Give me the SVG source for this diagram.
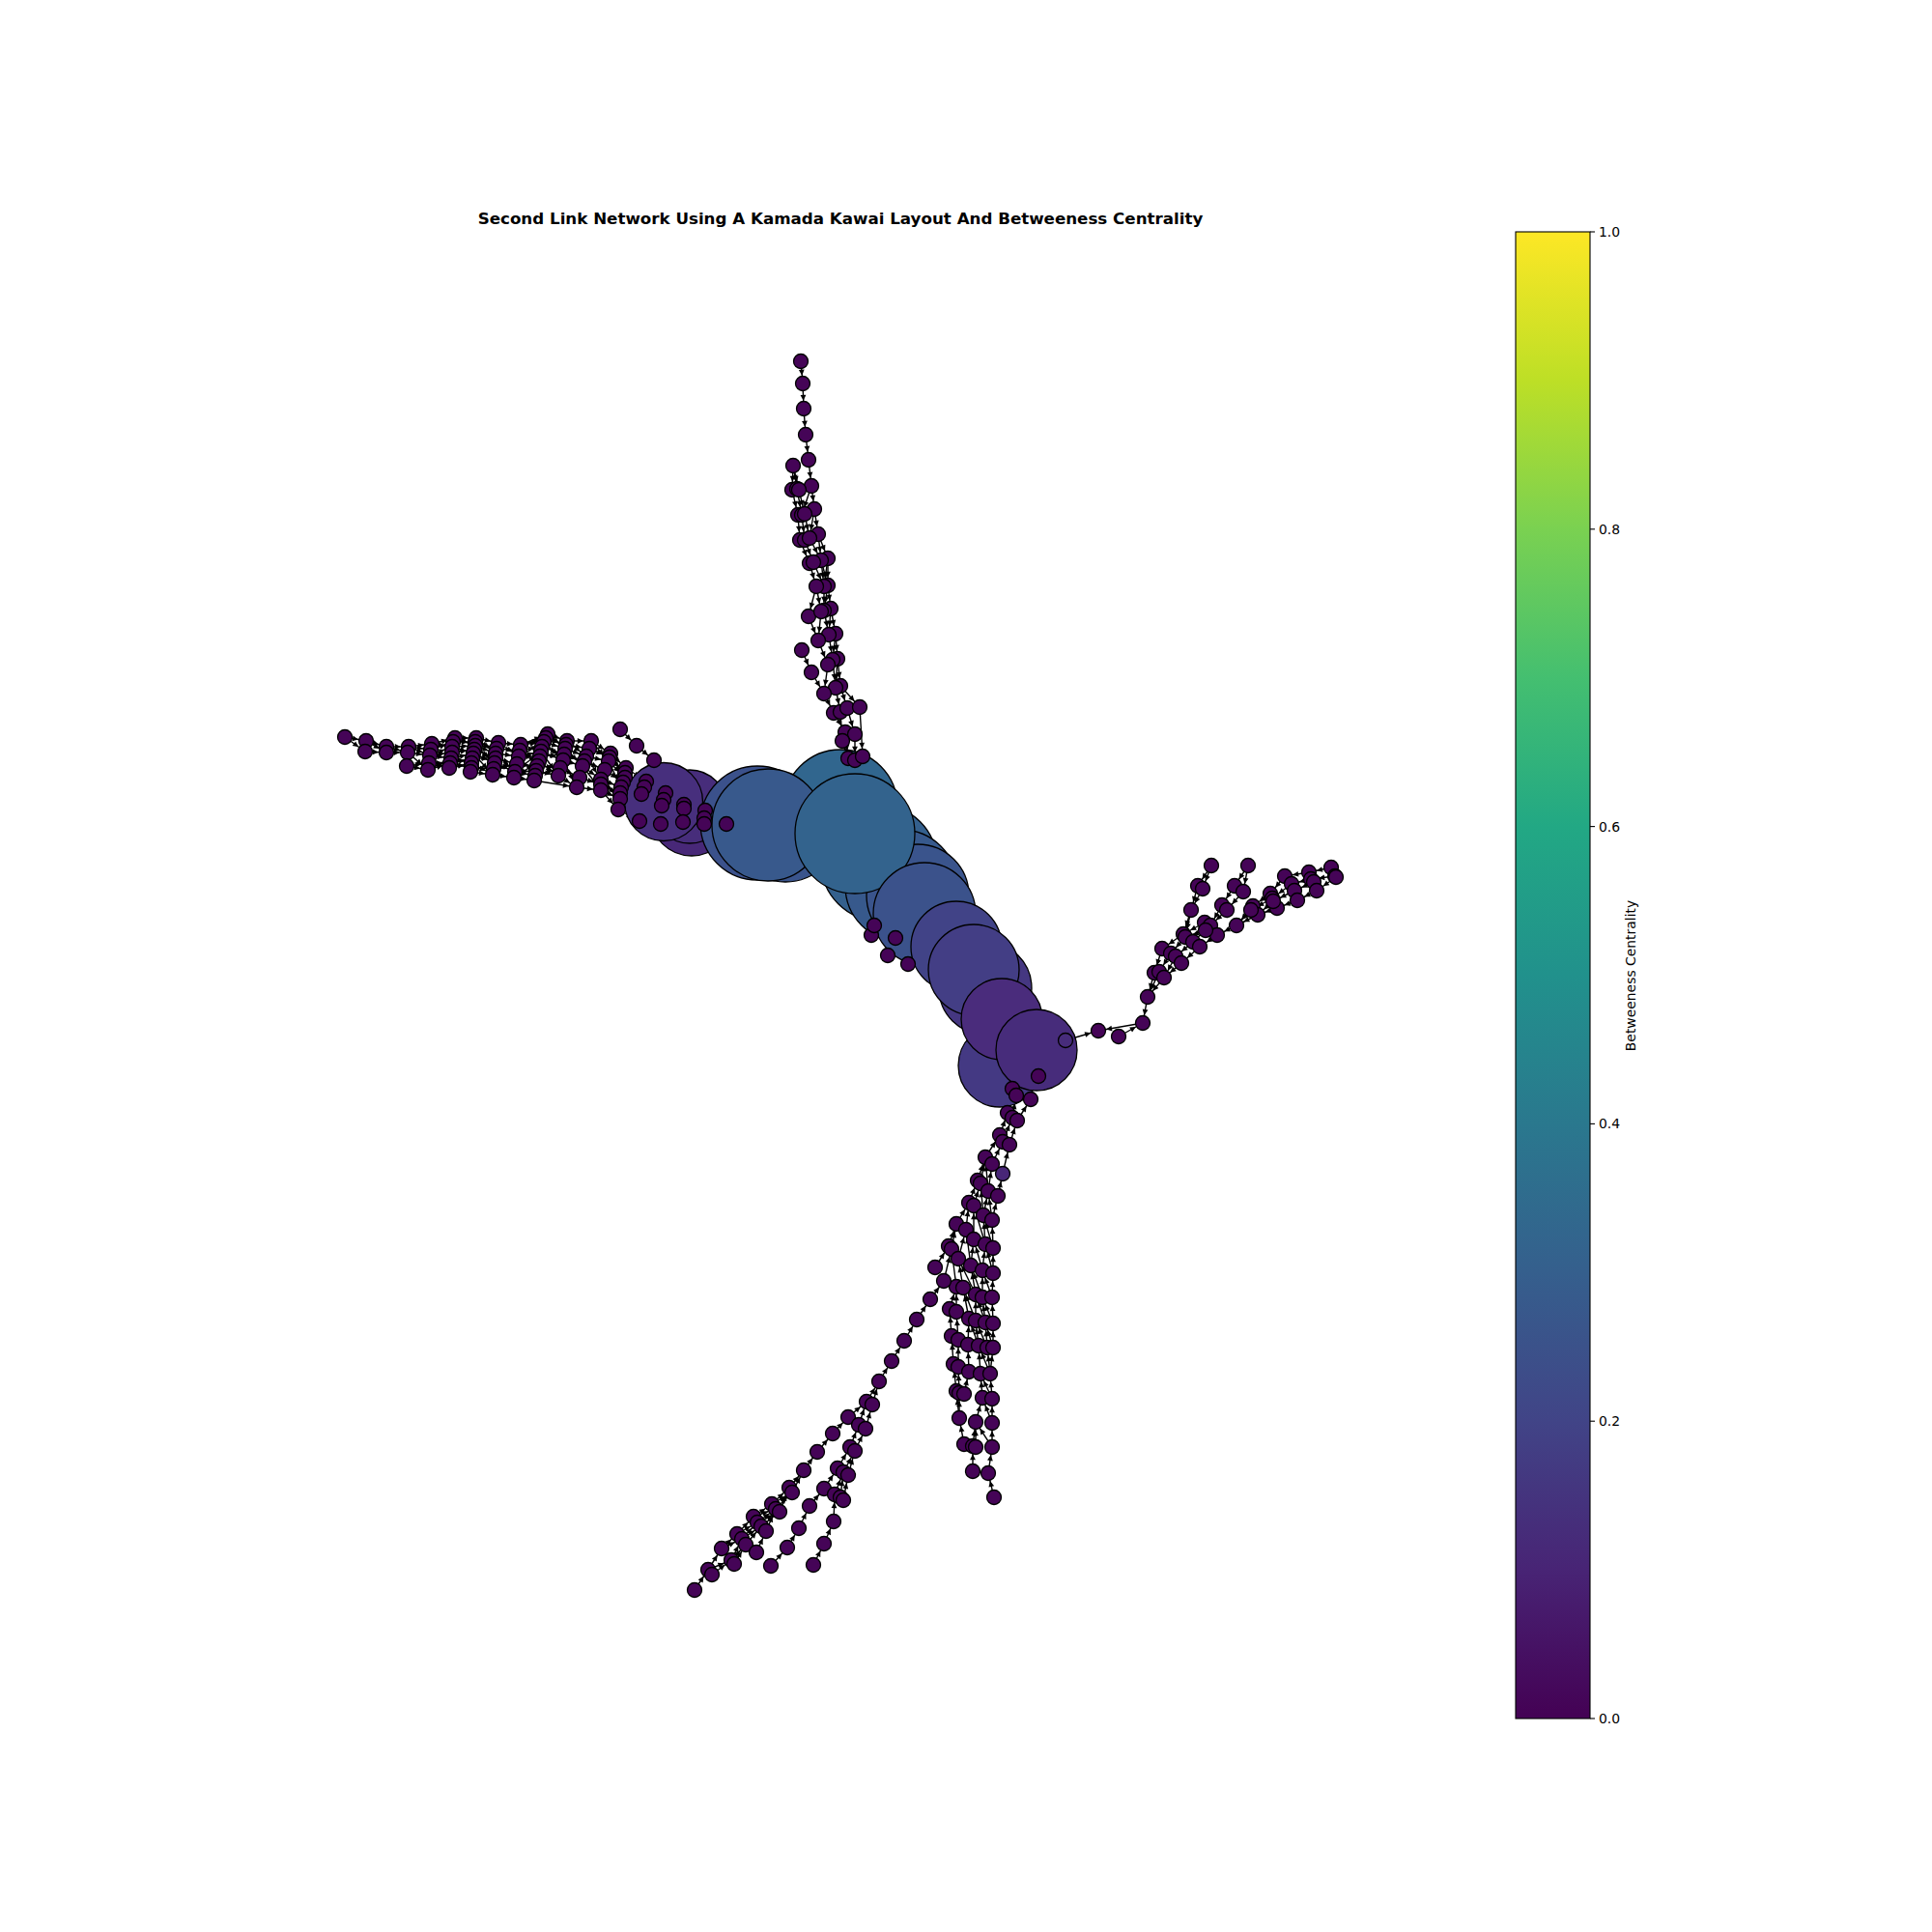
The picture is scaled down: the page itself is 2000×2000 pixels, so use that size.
<svg xmlns="http://www.w3.org/2000/svg" width="2000" height="2000" viewBox="0 0 2000 2000">
<style>
.e line{stroke:#000;stroke-width:1.4;marker-end:url(#ah)}
.n circle{fill:#450457;stroke:#000;stroke-width:1.3}
.h circle{stroke:#000;stroke-width:1.3}
.t{font-family:"DejaVu Sans",sans-serif;fill:#000}
</style>
<defs>
<marker id="ah" markerUnits="userSpaceOnUse" markerWidth="14" markerHeight="8" refX="14.2" refY="0" orient="auto" overflow="visible"><path d="M0,-2.9 L6,0 L0,2.9 Z" fill="#000"/></marker>
<linearGradient id="vir" x1="0" y1="1" x2="0" y2="0">
<stop offset="0" stop-color="#440154"/><stop offset="0.1" stop-color="#482475"/><stop offset="0.2" stop-color="#414487"/><stop offset="0.3" stop-color="#355f8d"/><stop offset="0.4" stop-color="#2a788e"/><stop offset="0.5" stop-color="#21918c"/><stop offset="0.6" stop-color="#22a884"/><stop offset="0.7" stop-color="#44bf70"/><stop offset="0.8" stop-color="#7ad151"/><stop offset="0.9" stop-color="#bddf26"/><stop offset="1" stop-color="#fde725"/>
</linearGradient>
</defs>
<rect width="2000" height="2000" fill="#fff"/>
<text class="t" x="870" y="232" font-size="16.7" font-weight="bold" text-anchor="middle">Second Link Network Using A Kamada Kawai Layout And Betweeness Centrality</text>
<g id="edges" class="e">
<line x1="829" y1="374" x2="831" y2="397"/><line x1="831" y1="397" x2="832" y2="423"/><line x1="832" y1="423" x2="834" y2="450"/><line x1="834" y1="450" x2="837" y2="476"/><line x1="837" y1="476" x2="840" y2="503"/><line x1="840" y1="503" x2="843" y2="527"/><line x1="843" y1="527" x2="847" y2="553"/><line x1="847" y1="553" x2="857" y2="578"/><line x1="857" y1="578" x2="857" y2="606"/><line x1="857" y1="606" x2="860" y2="630"/><line x1="860" y1="630" x2="865" y2="656"/><line x1="865" y1="656" x2="867" y2="682"/><line x1="867" y1="682" x2="870" y2="710"/><line x1="870" y1="710" x2="877" y2="733"/><line x1="877" y1="733" x2="885" y2="760"/><line x1="885" y1="760" x2="885" y2="787"/>
<line x1="821" y1="482" x2="820" y2="507"/><line x1="821" y1="482" x2="825" y2="506"/><line x1="821" y1="482" x2="827" y2="507"/><line x1="820" y1="507" x2="826" y2="533"/><line x1="826" y1="533" x2="828" y2="559"/><line x1="828" y1="559" x2="838" y2="583"/><line x1="838" y1="583" x2="845" y2="607"/><line x1="845" y1="607" x2="850" y2="633"/><line x1="850" y1="633" x2="847" y2="663"/><line x1="847" y1="663" x2="857" y2="688"/><line x1="857" y1="688" x2="853" y2="718"/><line x1="853" y1="718" x2="863" y2="738"/><line x1="863" y1="738" x2="875" y2="758"/><line x1="875" y1="758" x2="878" y2="785"/>
<line x1="825" y1="506" x2="830" y2="533"/><line x1="830" y1="533" x2="833" y2="559"/><line x1="833" y1="559" x2="842" y2="582"/><line x1="842" y1="582" x2="853" y2="607"/><line x1="853" y1="607" x2="853" y2="632"/><line x1="853" y1="632" x2="858" y2="657"/><line x1="858" y1="657" x2="862" y2="683"/><line x1="862" y1="683" x2="865" y2="712"/><line x1="865" y1="712" x2="870" y2="737"/><line x1="870" y1="737" x2="872" y2="767"/><line x1="872" y1="767" x2="878" y2="785"/>
<line x1="827" y1="507" x2="833" y2="532"/><line x1="833" y1="532" x2="838" y2="557"/><line x1="838" y1="557" x2="850" y2="580"/><line x1="850" y1="580" x2="857" y2="606"/><line x1="850" y1="580" x2="853" y2="607"/><line x1="837" y1="638" x2="847" y2="663"/><line x1="830" y1="673" x2="840" y2="696"/><line x1="840" y1="696" x2="853" y2="718"/><line x1="870" y1="710" x2="890" y2="732"/><line x1="890" y1="732" x2="893" y2="783"/><line x1="840" y1="503" x2="830" y2="533"/><line x1="843" y1="527" x2="838" y2="557"/><line x1="847" y1="553" x2="850" y2="580"/><line x1="857" y1="578" x2="853" y2="607"/><line x1="857" y1="606" x2="853" y2="632"/><line x1="860" y1="630" x2="858" y2="657"/><line x1="865" y1="656" x2="862" y2="683"/><line x1="867" y1="682" x2="865" y2="712"/><line x1="845" y1="607" x2="837" y2="638"/>
<line x1="357" y1="763" x2="379" y2="767"/><line x1="379" y1="767" x2="400" y2="773"/><line x1="400" y1="773" x2="423" y2="773"/><line x1="423" y1="773" x2="447" y2="770"/><line x1="447" y1="770" x2="471" y2="764"/><line x1="471" y1="764" x2="493" y2="764"/><line x1="493" y1="764" x2="516" y2="769"/><line x1="516" y1="769" x2="539" y2="771"/><line x1="539" y1="771" x2="567" y2="760"/><line x1="567" y1="760" x2="587" y2="767"/><line x1="587" y1="767" x2="612" y2="767"/><line x1="612" y1="767" x2="632" y2="780"/><line x1="632" y1="780" x2="648" y2="795"/><line x1="648" y1="795" x2="669" y2="809"/>
<line x1="378" y1="778" x2="400" y2="779"/><line x1="400" y1="779" x2="422" y2="779"/><line x1="422" y1="779" x2="445" y2="782"/><line x1="445" y1="782" x2="468" y2="773"/><line x1="468" y1="773" x2="492" y2="772"/><line x1="492" y1="772" x2="513" y2="780"/><line x1="513" y1="780" x2="537" y2="783"/><line x1="537" y1="783" x2="563" y2="768"/><line x1="563" y1="768" x2="585" y2="775"/><line x1="585" y1="775" x2="607" y2="783"/><line x1="607" y1="783" x2="630" y2="788"/><line x1="630" y1="788" x2="647" y2="805"/><line x1="647" y1="805" x2="667" y2="815"/>
<line x1="421" y1="793" x2="443" y2="797"/><line x1="443" y1="797" x2="467" y2="785"/><line x1="467" y1="785" x2="490" y2="780"/><line x1="490" y1="780" x2="512" y2="790"/><line x1="512" y1="790" x2="533" y2="799"/><line x1="533" y1="799" x2="560" y2="778"/><line x1="560" y1="778" x2="583" y2="787"/><line x1="583" y1="787" x2="603" y2="793"/><line x1="603" y1="793" x2="622" y2="807"/><line x1="622" y1="807" x2="643" y2="815"/><line x1="643" y1="815" x2="664" y2="822"/>
<line x1="465" y1="795" x2="488" y2="790"/><line x1="488" y1="790" x2="510" y2="802"/><line x1="510" y1="802" x2="532" y2="805"/><line x1="532" y1="805" x2="558" y2="788"/><line x1="558" y1="788" x2="578" y2="803"/><line x1="578" y1="803" x2="597" y2="815"/><line x1="597" y1="815" x2="622" y2="818"/><line x1="622" y1="818" x2="642" y2="827"/><line x1="642" y1="827" x2="689" y2="821"/><line x1="487" y1="799" x2="510" y2="802"/><line x1="555" y1="798" x2="578" y2="803"/><line x1="553" y1="808" x2="597" y2="815"/><line x1="640" y1="838" x2="662" y2="850"/>
<line x1="379" y1="767" x2="400" y2="779"/><line x1="400" y1="773" x2="422" y2="779"/><line x1="423" y1="773" x2="445" y2="782"/><line x1="422" y1="779" x2="443" y2="797"/><line x1="447" y1="770" x2="468" y2="773"/><line x1="445" y1="782" x2="467" y2="785"/><line x1="471" y1="764" x2="492" y2="772"/><line x1="468" y1="773" x2="490" y2="780"/><line x1="467" y1="785" x2="488" y2="790"/><line x1="493" y1="764" x2="513" y2="780"/><line x1="492" y1="772" x2="512" y2="790"/><line x1="490" y1="780" x2="510" y2="802"/><line x1="516" y1="769" x2="537" y2="783"/><line x1="513" y1="780" x2="533" y2="799"/><line x1="539" y1="771" x2="563" y2="768"/><line x1="537" y1="783" x2="560" y2="778"/><line x1="533" y1="799" x2="555" y2="798"/><line x1="532" y1="805" x2="553" y2="808"/><line x1="567" y1="760" x2="585" y2="775"/><line x1="563" y1="768" x2="583" y2="787"/><line x1="560" y1="778" x2="578" y2="803"/><line x1="587" y1="767" x2="607" y2="783"/><line x1="585" y1="775" x2="603" y2="793"/><line x1="583" y1="787" x2="597" y2="815"/><line x1="612" y1="767" x2="630" y2="788"/><line x1="607" y1="783" x2="622" y2="807"/><line x1="603" y1="793" x2="622" y2="818"/><line x1="632" y1="780" x2="647" y2="805"/><line x1="630" y1="788" x2="643" y2="815"/><line x1="622" y1="807" x2="642" y2="827"/><line x1="622" y1="818" x2="640" y2="838"/><line x1="642" y1="755" x2="659" y2="772"/><line x1="659" y1="772" x2="677" y2="787"/><line x1="357" y1="763" x2="378" y2="778"/>
<line x1="446" y1="776" x2="469" y2="768"/><line x1="444" y1="790" x2="466" y2="790"/><line x1="469" y1="768" x2="492" y2="768"/><line x1="468" y1="779" x2="491" y2="776"/><line x1="466" y1="790" x2="489" y2="785"/><line x1="466" y1="790" x2="488" y2="795"/><line x1="492" y1="768" x2="514" y2="775"/><line x1="491" y1="776" x2="513" y2="785"/><line x1="489" y1="785" x2="513" y2="785"/><line x1="488" y1="795" x2="511" y2="796"/><line x1="514" y1="775" x2="538" y2="777"/><line x1="513" y1="785" x2="535" y2="791"/><line x1="511" y1="796" x2="535" y2="791"/><line x1="538" y1="777" x2="561" y2="773"/><line x1="535" y1="791" x2="556" y2="793"/><line x1="565" y1="764" x2="586" y2="771"/><line x1="561" y1="773" x2="584" y2="781"/><line x1="559" y1="783" x2="584" y2="781"/><line x1="556" y1="793" x2="580" y2="795"/><line x1="554" y1="803" x2="580" y2="795"/><line x1="586" y1="771" x2="610" y2="775"/><line x1="584" y1="781" x2="605" y2="788"/><line x1="580" y1="795" x2="600" y2="805"/><line x1="610" y1="775" x2="631" y2="784"/><line x1="605" y1="788" x2="626" y2="797"/><line x1="600" y1="805" x2="622" y2="812"/><line x1="631" y1="784" x2="647" y2="800"/><line x1="626" y1="797" x2="645" y2="810"/><line x1="622" y1="812" x2="642" y2="821"/><line x1="445" y1="782" x2="468" y2="779"/><line x1="443" y1="797" x2="466" y2="790"/><line x1="539" y1="771" x2="565" y2="764"/><line x1="537" y1="783" x2="559" y2="783"/><line x1="533" y1="799" x2="554" y2="803"/><line x1="423" y1="773" x2="446" y2="776"/><line x1="421" y1="793" x2="444" y2="790"/>
<line x1="1378" y1="898" x2="1355" y2="903"/><line x1="1382" y1="907" x2="1357" y2="910"/><line x1="1383" y1="908" x2="1363" y2="922"/><line x1="1355" y1="903" x2="1330" y2="907"/><line x1="1357" y1="910" x2="1337" y2="915"/><line x1="1360" y1="913" x2="1340" y2="922"/><line x1="1363" y1="922" x2="1343" y2="932"/><line x1="1330" y1="907" x2="1315" y2="925"/><line x1="1337" y1="915" x2="1317" y2="930"/><line x1="1340" y1="922" x2="1318" y2="933"/><line x1="1343" y1="932" x2="1322" y2="940"/><line x1="1315" y1="925" x2="1297" y2="938"/><line x1="1317" y1="930" x2="1295" y2="942"/><line x1="1318" y1="933" x2="1302" y2="947"/><line x1="1322" y1="940" x2="1302" y2="947"/><line x1="1297" y1="938" x2="1280" y2="958"/><line x1="1295" y1="942" x2="1280" y2="958"/><line x1="1302" y1="947" x2="1280" y2="958"/><line x1="1280" y1="958" x2="1260" y2="968"/>
<line x1="1292" y1="896" x2="1278" y2="917"/><line x1="1292" y1="896" x2="1287" y2="923"/><line x1="1278" y1="917" x2="1265" y2="937"/><line x1="1287" y1="923" x2="1270" y2="942"/><line x1="1265" y1="937" x2="1253" y2="958"/><line x1="1270" y1="942" x2="1253" y2="958"/><line x1="1254" y1="896" x2="1240" y2="917"/><line x1="1254" y1="896" x2="1245" y2="920"/><line x1="1240" y1="917" x2="1233" y2="942"/><line x1="1245" y1="920" x2="1233" y2="942"/><line x1="1233" y1="942" x2="1225" y2="967"/><line x1="1233" y1="942" x2="1227" y2="970"/><line x1="1247" y1="955" x2="1225" y2="967"/><line x1="1253" y1="958" x2="1235" y2="975"/><line x1="1260" y1="968" x2="1242" y2="980"/><line x1="1248" y1="963" x2="1227" y2="970"/>
<line x1="1225" y1="967" x2="1203" y2="982"/><line x1="1227" y1="970" x2="1212" y2="987"/><line x1="1235" y1="975" x2="1217" y2="990"/><line x1="1242" y1="980" x2="1223" y2="997"/><line x1="1203" y1="982" x2="1195" y2="1007"/><line x1="1212" y1="987" x2="1200" y2="1006"/><line x1="1217" y1="990" x2="1205" y2="1012"/><line x1="1223" y1="997" x2="1205" y2="1012"/><line x1="1195" y1="1007" x2="1188" y2="1032"/><line x1="1200" y1="1006" x2="1188" y2="1032"/><line x1="1205" y1="1012" x2="1188" y2="1032"/><line x1="1188" y1="1032" x2="1183" y2="1059"/><line x1="1158" y1="1073" x2="1183" y2="1059"/><line x1="1183" y1="1059" x2="1137" y2="1067"/><line x1="1103" y1="1077" x2="1137" y2="1067"/>
<line x1="1029" y1="1550" x2="1023" y2="1525"/><line x1="1023" y1="1525" x2="1027" y2="1498"/><line x1="1007" y1="1523" x2="1007" y2="1497"/><line x1="1027" y1="1498" x2="1027" y2="1473"/><line x1="1010" y1="1498" x2="1010" y2="1472"/><line x1="1007" y1="1497" x2="1010" y2="1472"/><line x1="998" y1="1495" x2="993" y2="1468"/><line x1="1027" y1="1473" x2="1027" y2="1448"/><line x1="1010" y1="1472" x2="1017" y2="1447"/><line x1="993" y1="1468" x2="993" y2="1442"/><line x1="993" y1="1468" x2="990" y2="1440"/><line x1="1027" y1="1448" x2="1025" y2="1422"/><line x1="1017" y1="1447" x2="1015" y2="1422"/><line x1="998" y1="1443" x2="1003" y2="1420"/><line x1="993" y1="1442" x2="992" y2="1415"/><line x1="990" y1="1440" x2="987" y2="1412"/><line x1="1025" y1="1422" x2="1028" y2="1395"/><line x1="1025" y1="1422" x2="1022" y2="1395"/><line x1="1015" y1="1422" x2="1013" y2="1393"/><line x1="1003" y1="1420" x2="1002" y2="1392"/><line x1="992" y1="1415" x2="992" y2="1387"/><line x1="987" y1="1412" x2="985" y2="1383"/>
<line x1="1028" y1="1395" x2="1028" y2="1370"/><line x1="1022" y1="1395" x2="1020" y2="1369"/><line x1="1013" y1="1393" x2="1010" y2="1367"/><line x1="1002" y1="1392" x2="1003" y2="1365"/><line x1="992" y1="1387" x2="990" y2="1358"/><line x1="985" y1="1383" x2="983" y2="1355"/><line x1="1028" y1="1370" x2="1027" y2="1343"/><line x1="1020" y1="1369" x2="1017" y2="1343"/><line x1="1010" y1="1367" x2="1010" y2="1340"/><line x1="1003" y1="1365" x2="997" y2="1333"/><line x1="990" y1="1358" x2="990" y2="1332"/><line x1="983" y1="1355" x2="990" y2="1332"/><line x1="1027" y1="1343" x2="1028" y2="1318"/><line x1="1017" y1="1343" x2="1017" y2="1315"/><line x1="1010" y1="1340" x2="1005" y2="1310"/><line x1="997" y1="1333" x2="992" y2="1303"/><line x1="990" y1="1332" x2="985" y2="1293"/>
<line x1="1028" y1="1318" x2="1028" y2="1292"/><line x1="1017" y1="1315" x2="1020" y2="1288"/><line x1="1005" y1="1310" x2="1008" y2="1283"/><line x1="992" y1="1303" x2="1000" y2="1273"/><line x1="985" y1="1293" x2="990" y2="1267"/><line x1="982" y1="1290" x2="990" y2="1267"/><line x1="1028" y1="1292" x2="1027" y2="1263"/><line x1="1020" y1="1288" x2="1018" y2="1258"/><line x1="1008" y1="1283" x2="1008" y2="1248"/><line x1="1000" y1="1273" x2="1003" y2="1245"/><line x1="990" y1="1267" x2="1003" y2="1245"/><line x1="1027" y1="1263" x2="1033" y2="1238"/><line x1="1018" y1="1258" x2="1023" y2="1233"/><line x1="1008" y1="1248" x2="1015" y2="1225"/><line x1="1003" y1="1245" x2="1012" y2="1222"/><line x1="1033" y1="1238" x2="1038" y2="1215"/><line x1="1023" y1="1233" x2="1027" y2="1205"/><line x1="1015" y1="1225" x2="1020" y2="1198"/><line x1="1012" y1="1222" x2="1020" y2="1198"/><line x1="1038" y1="1215" x2="1045" y2="1185"/><line x1="1027" y1="1205" x2="1038" y2="1182"/><line x1="1020" y1="1198" x2="1035" y2="1175"/><line x1="1045" y1="1185" x2="1053" y2="1160"/><line x1="1038" y1="1182" x2="1048" y2="1157"/><line x1="1035" y1="1175" x2="1043" y2="1152"/><line x1="1053" y1="1160" x2="1067" y2="1138"/><line x1="1048" y1="1157" x2="1052" y2="1134"/><line x1="1043" y1="1152" x2="1048" y2="1127"/>
<line x1="1028" y1="1370" x2="1017" y2="1343"/><line x1="1027" y1="1343" x2="1017" y2="1315"/><line x1="1028" y1="1318" x2="1020" y2="1288"/><line x1="1028" y1="1395" x2="1020" y2="1369"/><line x1="1022" y1="1395" x2="1010" y2="1367"/><line x1="1020" y1="1369" x2="1010" y2="1340"/><line x1="1017" y1="1343" x2="1005" y2="1310"/><line x1="1017" y1="1315" x2="1008" y2="1283"/><line x1="1025" y1="1422" x2="1013" y2="1393"/><line x1="1027" y1="1448" x2="1015" y2="1422"/><line x1="1027" y1="1473" x2="1017" y2="1447"/><line x1="1013" y1="1393" x2="1003" y2="1365"/><line x1="1010" y1="1367" x2="997" y2="1333"/><line x1="1010" y1="1340" x2="992" y2="1303"/><line x1="1005" y1="1310" x2="1000" y2="1273"/><line x1="1020" y1="1288" x2="1008" y2="1248"/><line x1="1018" y1="1258" x2="1015" y2="1225"/><line x1="1023" y1="1233" x2="1020" y2="1198"/><line x1="1027" y1="1498" x2="1010" y2="1472"/><line x1="1028" y1="1292" x2="1018" y2="1258"/><line x1="1027" y1="1263" x2="1023" y2="1233"/>
<line x1="719" y1="1646" x2="733" y2="1625"/><line x1="733" y1="1625" x2="747" y2="1603"/><line x1="747" y1="1603" x2="763" y2="1588"/><line x1="763" y1="1588" x2="780" y2="1570"/><line x1="780" y1="1570" x2="799" y2="1557"/><line x1="799" y1="1557" x2="817" y2="1540"/><line x1="817" y1="1540" x2="832" y2="1522"/><line x1="832" y1="1522" x2="846" y2="1503"/><line x1="846" y1="1503" x2="862" y2="1484"/><line x1="862" y1="1484" x2="878" y2="1467"/><line x1="878" y1="1467" x2="897" y2="1451"/><line x1="897" y1="1451" x2="910" y2="1430"/><line x1="910" y1="1430" x2="923" y2="1409"/><line x1="923" y1="1409" x2="936" y2="1388"/><line x1="936" y1="1388" x2="949" y2="1366"/><line x1="949" y1="1366" x2="963" y2="1345"/><line x1="963" y1="1345" x2="977" y2="1326"/><line x1="977" y1="1326" x2="985" y2="1293"/><line x1="968" y1="1312" x2="982" y2="1290"/>
<line x1="798" y1="1621" x2="815" y2="1602"/><line x1="815" y1="1602" x2="827" y2="1582"/><line x1="827" y1="1582" x2="838" y2="1559"/><line x1="838" y1="1559" x2="853" y2="1541"/><line x1="853" y1="1541" x2="867" y2="1520"/><line x1="867" y1="1520" x2="880" y2="1498"/><line x1="880" y1="1498" x2="889" y2="1475"/><line x1="889" y1="1475" x2="897" y2="1451"/><line x1="842" y1="1620" x2="853" y2="1598"/><line x1="853" y1="1598" x2="863" y2="1575"/><line x1="863" y1="1575" x2="864" y2="1547"/><line x1="864" y1="1547" x2="873" y2="1524"/><line x1="873" y1="1524" x2="885" y2="1502"/><line x1="885" y1="1502" x2="896" y2="1479"/><line x1="896" y1="1479" x2="903" y2="1454"/><line x1="903" y1="1454" x2="910" y2="1430"/><line x1="873" y1="1553" x2="878" y2="1527"/><line x1="870" y1="1550" x2="873" y2="1524"/><line x1="878" y1="1527" x2="885" y2="1502"/>
<line x1="737" y1="1630" x2="757" y2="1615"/><line x1="757" y1="1615" x2="768" y2="1593"/><line x1="768" y1="1593" x2="784" y2="1576"/><line x1="784" y1="1576" x2="803" y2="1562"/><line x1="803" y1="1562" x2="820" y2="1545"/><line x1="820" y1="1545" x2="832" y2="1522"/><line x1="760" y1="1619" x2="772" y2="1599"/><line x1="772" y1="1599" x2="788" y2="1580"/><line x1="788" y1="1580" x2="807" y2="1565"/><line x1="807" y1="1565" x2="817" y2="1540"/><line x1="783" y1="1607" x2="793" y2="1585"/><line x1="793" y1="1585" x2="803" y2="1562"/><line x1="733" y1="1625" x2="757" y2="1615"/><line x1="747" y1="1603" x2="768" y2="1593"/><line x1="763" y1="1588" x2="784" y2="1576"/><line x1="780" y1="1570" x2="803" y2="1562"/><line x1="799" y1="1557" x2="820" y2="1545"/><line x1="757" y1="1615" x2="772" y2="1599"/><line x1="768" y1="1593" x2="788" y2="1580"/><line x1="784" y1="1576" x2="807" y2="1565"/>
</g>
<g id="h1" class="h"><circle cx="716" cy="843" r="43" fill="#482878"/></g>
<g id="h0" class="h"><circle cx="714" cy="835" r="38" fill="#472d7b"/></g>
<g id="h2" class="h"><circle cx="784" cy="852" r="59" fill="#3b518b"/></g>
<g id="h3" class="h"><circle cx="813" cy="857" r="56" fill="#3a548c"/></g>
<g id="h4" class="h"><circle cx="870" cy="835" r="59" fill="#31668e"/></g>
<g id="h5" class="h"><circle cx="910" cy="893" r="60" fill="#34608d"/></g>
<g id="h6" class="h"><circle cx="933" cy="917" r="58" fill="#37598c"/></g>
<g id="h7" class="h"><circle cx="950" cy="927" r="53" fill="#3a548c"/></g>
<g id="hA" class="h"><circle cx="687" cy="830" r="40.5" fill="#472f7d"/></g>
<g id="hB" class="h"><circle cx="795" cy="854" r="58" fill="#38598c"/></g>
<g id="hD" class="h"><circle cx="885" cy="863" r="62" fill="#33638d"/></g>
<g id="hX1" class="h"><circle cx="1020" cy="1023" r="48" fill="#453781"/></g>
<g id="hE" class="h"><circle cx="957" cy="946" r="53" fill="#3b528b"/></g>
<g id="hF" class="h"><circle cx="990" cy="980" r="47" fill="#414387"/></g>
<g id="hG" class="h"><circle cx="1008" cy="1004" r="47" fill="#433e85"/></g>
<g id="hH" class="h"><circle cx="1035" cy="1103" r="43" fill="#443983"/></g>
<g id="hX2" class="h"><circle cx="1037" cy="1055" r="42" fill="#4a2c7c"/></g>
<g id="hI" class="h"><circle cx="1073" cy="1087" r="42" fill="#472c7b"/></g>
<g id="t1" class="n"><circle cx="829" cy="374" r="7.5"/></g>
<g id="t2" class="n"><circle cx="831" cy="397" r="7.5"/></g>
<g id="t3" class="n"><circle cx="832" cy="423" r="7.5"/></g>
<g id="t4" class="n"><circle cx="834" cy="450" r="7.5"/></g>
<g id="t5" class="n"><circle cx="837" cy="476" r="7.5"/></g>
<g id="t6" class="n"><circle cx="821" cy="482" r="7.5"/></g>
<g id="t7" class="n"><circle cx="840" cy="503" r="7.5"/></g>
<g id="t8" class="n"><circle cx="820" cy="507" r="7.5"/></g>
<g id="t9" class="n"><circle cx="825" cy="506" r="7.5"/></g>
<g id="t10" class="n"><circle cx="827" cy="507" r="7.5"/></g>
<g id="t11" class="n"><circle cx="843" cy="527" r="7.5"/></g>
<g id="t12" class="n"><circle cx="826" cy="533" r="7.5"/></g>
<g id="t13" class="n"><circle cx="830" cy="533" r="7.5"/></g>
<g id="t14" class="n"><circle cx="833" cy="532" r="7.5"/></g>
<g id="t15" class="n"><circle cx="847" cy="553" r="7.5"/></g>
<g id="t16" class="n"><circle cx="828" cy="559" r="7.5"/></g>
<g id="t17" class="n"><circle cx="833" cy="559" r="7.5"/></g>
<g id="t18" class="n"><circle cx="838" cy="557" r="7.5"/></g>
<g id="t19" class="n"><circle cx="857" cy="578" r="7.5"/></g>
<g id="t20" class="n"><circle cx="850" cy="580" r="7.5"/></g>
<g id="t21" class="n"><circle cx="838" cy="583" r="7.5"/></g>
<g id="t22" class="n"><circle cx="842" cy="582" r="7.5"/></g>
<g id="t23" class="n"><circle cx="857" cy="606" r="7.5"/></g>
<g id="t24" class="n"><circle cx="853" cy="607" r="7.5"/></g>
<g id="t25" class="n"><circle cx="845" cy="607" r="7.5"/></g>
<g id="t26" class="n"><circle cx="837" cy="638" r="7.5"/></g>
<g id="t27" class="n"><circle cx="860" cy="630" r="7.5"/></g>
<g id="t28" class="n"><circle cx="853" cy="632" r="7.5"/></g>
<g id="t29" class="n"><circle cx="850" cy="633" r="7.5"/></g>
<g id="t30" class="n"><circle cx="865" cy="656" r="7.5"/></g>
<g id="t31" class="n"><circle cx="858" cy="657" r="7.5"/></g>
<g id="t32" class="n"><circle cx="847" cy="663" r="7.5"/></g>
<g id="t33" class="n"><circle cx="830" cy="673" r="7.5"/></g>
<g id="t34" class="n"><circle cx="867" cy="682" r="7.5"/></g>
<g id="t35" class="n"><circle cx="862" cy="683" r="7.5"/></g>
<g id="t36" class="n"><circle cx="857" cy="688" r="7.5"/></g>
<g id="t37" class="n"><circle cx="840" cy="696" r="7.5"/></g>
<g id="t38" class="n"><circle cx="870" cy="710" r="7.5"/></g>
<g id="t39" class="n"><circle cx="865" cy="712" r="7.5"/></g>
<g id="t40" class="n"><circle cx="853" cy="718" r="7.5"/></g>
<g id="t41" class="n"><circle cx="863" cy="738" r="7.5"/></g>
<g id="t42" class="n"><circle cx="870" cy="737" r="7.5"/></g>
<g id="t43" class="n"><circle cx="877" cy="733" r="7.5"/></g>
<g id="t44" class="n"><circle cx="890" cy="732" r="7.5"/></g>
<g id="t45" class="n"><circle cx="875" cy="758" r="7.5"/></g>
<g id="t46" class="n"><circle cx="885" cy="760" r="7.5"/></g>
<g id="t47" class="n"><circle cx="872" cy="767" r="7.5"/></g>
<g id="t48" class="n"><circle cx="878" cy="785" r="7.5"/></g>
<g id="t49" class="n"><circle cx="885" cy="787" r="7.5"/></g>
<g id="t50" class="n"><circle cx="893" cy="783" r="7.5"/></g>
<g id="l1" class="n"><circle cx="357" cy="763" r="7.5"/></g>
<g id="l2" class="n"><circle cx="379" cy="767" r="7.5"/></g>
<g id="l3" class="n"><circle cx="378" cy="778" r="7.5"/></g>
<g id="l4" class="n"><circle cx="400" cy="773" r="7.5"/></g>
<g id="l5" class="n"><circle cx="400" cy="779" r="7.5"/></g>
<g id="l6" class="n"><circle cx="423" cy="773" r="7.5"/></g>
<g id="l7" class="n"><circle cx="422" cy="779" r="7.5"/></g>
<g id="l8" class="n"><circle cx="421" cy="793" r="7.5"/></g>
<g id="l9" class="n"><circle cx="447" cy="770" r="7.5"/></g>
<g id="l70" class="n"><circle cx="446" cy="776" r="7.5"/></g>
<g id="l10" class="n"><circle cx="445" cy="782" r="7.5"/></g>
<g id="l71" class="n"><circle cx="444" cy="790" r="7.5"/></g>
<g id="l11" class="n"><circle cx="443" cy="797" r="7.5"/></g>
<g id="l12" class="n"><circle cx="471" cy="764" r="7.5"/></g>
<g id="l72" class="n"><circle cx="469" cy="768" r="7.5"/></g>
<g id="l13" class="n"><circle cx="468" cy="773" r="7.5"/></g>
<g id="l73" class="n"><circle cx="468" cy="779" r="7.5"/></g>
<g id="l14" class="n"><circle cx="467" cy="785" r="7.5"/></g>
<g id="l74" class="n"><circle cx="466" cy="790" r="7.5"/></g>
<g id="l15" class="n"><circle cx="465" cy="795" r="7.5"/></g>
<g id="l16" class="n"><circle cx="493" cy="764" r="7.5"/></g>
<g id="l75" class="n"><circle cx="492" cy="768" r="7.5"/></g>
<g id="l17" class="n"><circle cx="492" cy="772" r="7.5"/></g>
<g id="l76" class="n"><circle cx="491" cy="776" r="7.5"/></g>
<g id="l18" class="n"><circle cx="490" cy="780" r="7.5"/></g>
<g id="l77" class="n"><circle cx="489" cy="785" r="7.5"/></g>
<g id="l19" class="n"><circle cx="488" cy="790" r="7.5"/></g>
<g id="l78" class="n"><circle cx="488" cy="795" r="7.5"/></g>
<g id="l20" class="n"><circle cx="487" cy="799" r="7.5"/></g>
<g id="l21" class="n"><circle cx="516" cy="769" r="7.5"/></g>
<g id="l79" class="n"><circle cx="514" cy="775" r="7.5"/></g>
<g id="l22" class="n"><circle cx="513" cy="780" r="7.5"/></g>
<g id="l80" class="n"><circle cx="513" cy="785" r="7.5"/></g>
<g id="l23" class="n"><circle cx="512" cy="790" r="7.5"/></g>
<g id="l81" class="n"><circle cx="511" cy="796" r="7.5"/></g>
<g id="l24" class="n"><circle cx="510" cy="802" r="7.5"/></g>
<g id="l25" class="n"><circle cx="539" cy="771" r="7.5"/></g>
<g id="l82" class="n"><circle cx="538" cy="777" r="7.5"/></g>
<g id="l26" class="n"><circle cx="537" cy="783" r="7.5"/></g>
<g id="l83" class="n"><circle cx="535" cy="791" r="7.5"/></g>
<g id="l27" class="n"><circle cx="533" cy="799" r="7.5"/></g>
<g id="l28" class="n"><circle cx="532" cy="805" r="7.5"/></g>
<g id="l29" class="n"><circle cx="567" cy="760" r="7.5"/></g>
<g id="l84" class="n"><circle cx="565" cy="764" r="7.5"/></g>
<g id="l30" class="n"><circle cx="563" cy="768" r="7.5"/></g>
<g id="l85" class="n"><circle cx="561" cy="773" r="7.5"/></g>
<g id="l31" class="n"><circle cx="560" cy="778" r="7.5"/></g>
<g id="l86" class="n"><circle cx="559" cy="783" r="7.5"/></g>
<g id="l32" class="n"><circle cx="558" cy="788" r="7.5"/></g>
<g id="l87" class="n"><circle cx="556" cy="793" r="7.5"/></g>
<g id="l33" class="n"><circle cx="555" cy="798" r="7.5"/></g>
<g id="l88" class="n"><circle cx="554" cy="803" r="7.5"/></g>
<g id="l34" class="n"><circle cx="553" cy="808" r="7.5"/></g>
<g id="l35" class="n"><circle cx="587" cy="767" r="7.5"/></g>
<g id="l89" class="n"><circle cx="586" cy="771" r="7.5"/></g>
<g id="l36" class="n"><circle cx="585" cy="775" r="7.5"/></g>
<g id="l90" class="n"><circle cx="584" cy="781" r="7.5"/></g>
<g id="l37" class="n"><circle cx="583" cy="787" r="7.5"/></g>
<g id="l91" class="n"><circle cx="580" cy="795" r="7.5"/></g>
<g id="l38" class="n"><circle cx="578" cy="803" r="7.5"/></g>
<g id="l39" class="n"><circle cx="612" cy="767" r="7.5"/></g>
<g id="l92" class="n"><circle cx="610" cy="775" r="7.5"/></g>
<g id="l40" class="n"><circle cx="607" cy="783" r="7.5"/></g>
<g id="l93" class="n"><circle cx="605" cy="788" r="7.5"/></g>
<g id="l41" class="n"><circle cx="603" cy="793" r="7.5"/></g>
<g id="l94" class="n"><circle cx="600" cy="805" r="7.5"/></g>
<g id="l42" class="n"><circle cx="597" cy="815" r="7.5"/></g>
<g id="l43" class="n"><circle cx="632" cy="780" r="7.5"/></g>
<g id="l95" class="n"><circle cx="631" cy="784" r="7.5"/></g>
<g id="l44" class="n"><circle cx="630" cy="788" r="7.5"/></g>
<g id="l96" class="n"><circle cx="626" cy="797" r="7.5"/></g>
<g id="l45" class="n"><circle cx="622" cy="807" r="7.5"/></g>
<g id="l97" class="n"><circle cx="622" cy="812" r="7.5"/></g>
<g id="l46" class="n"><circle cx="622" cy="818" r="7.5"/></g>
<g id="l47" class="n"><circle cx="648" cy="795" r="7.5"/></g>
<g id="l98" class="n"><circle cx="647" cy="800" r="7.5"/></g>
<g id="l48" class="n"><circle cx="647" cy="805" r="7.5"/></g>
<g id="l99" class="n"><circle cx="645" cy="810" r="7.5"/></g>
<g id="l49" class="n"><circle cx="643" cy="815" r="7.5"/></g>
<g id="l100" class="n"><circle cx="642" cy="821" r="7.5"/></g>
<g id="l50" class="n"><circle cx="642" cy="827" r="7.5"/></g>
<g id="l51" class="n"><circle cx="640" cy="838" r="7.5"/></g>
<g id="l52" class="n"><circle cx="642" cy="755" r="7.5"/></g>
<g id="l53" class="n"><circle cx="659" cy="772" r="7.5"/></g>
<g id="l54" class="n"><circle cx="677" cy="787" r="7.5"/></g>
<g id="l55" class="n"><circle cx="662" cy="850" r="7.5"/></g>
<g id="l56" class="n"><circle cx="669" cy="809" r="7.5"/></g>
<g id="l57" class="n"><circle cx="667" cy="815" r="7.5"/></g>
<g id="l58" class="n"><circle cx="664" cy="822" r="7.5"/></g>
<g id="l59" class="n"><circle cx="689" cy="821" r="7.5"/></g>
<g id="l60" class="n"><circle cx="687" cy="828" r="7.5"/></g>
<g id="l61" class="n"><circle cx="685" cy="834" r="7.5"/></g>
<g id="l62" class="n"><circle cx="708" cy="833" r="7.5"/></g>
<g id="l63" class="n"><circle cx="708" cy="837" r="7.5"/></g>
<g id="l64" class="n"><circle cx="684" cy="853" r="7.5"/></g>
<g id="l65" class="n"><circle cx="707" cy="851" r="7.5"/></g>
<g id="l66" class="n"><circle cx="730" cy="839" r="7.5"/></g>
<g id="l67" class="n"><circle cx="729" cy="847" r="7.5"/></g>
<g id="l68" class="n"><circle cx="729" cy="853" r="7.5"/></g>
<g id="l69" class="n"><circle cx="752" cy="853" r="7.5"/></g>
<g id="r1" class="n"><circle cx="1103" cy="1077" r="7.5" style="fill:#472c7b"/></g>
<g id="r2" class="n"><circle cx="1137" cy="1067" r="7.5"/></g>
<g id="r3" class="n"><circle cx="1158" cy="1073" r="7.5"/></g>
<g id="r4" class="n"><circle cx="1183" cy="1059" r="7.5"/></g>
<g id="r5" class="n"><circle cx="1188" cy="1032" r="7.5"/></g>
<g id="r6" class="n"><circle cx="1195" cy="1007" r="7.5"/></g>
<g id="r7" class="n"><circle cx="1200" cy="1006" r="7.5"/></g>
<g id="r8" class="n"><circle cx="1205" cy="1012" r="7.5"/></g>
<g id="r9" class="n"><circle cx="1203" cy="982" r="7.5"/></g>
<g id="r10" class="n"><circle cx="1212" cy="987" r="7.5"/></g>
<g id="r11" class="n"><circle cx="1217" cy="990" r="7.5"/></g>
<g id="r12" class="n"><circle cx="1223" cy="997" r="7.5"/></g>
<g id="r13" class="n"><circle cx="1225" cy="967" r="7.5"/></g>
<g id="r14" class="n"><circle cx="1227" cy="970" r="7.5"/></g>
<g id="r15" class="n"><circle cx="1235" cy="975" r="7.5"/></g>
<g id="r16" class="n"><circle cx="1242" cy="980" r="7.5"/></g>
<g id="r17" class="n"><circle cx="1233" cy="942" r="7.5"/></g>
<g id="r18" class="n"><circle cx="1240" cy="917" r="7.5"/></g>
<g id="r19" class="n"><circle cx="1245" cy="920" r="7.5"/></g>
<g id="r20" class="n"><circle cx="1254" cy="896" r="7.5"/></g>
<g id="r21" class="n"><circle cx="1247" cy="955" r="7.5"/></g>
<g id="r22" class="n"><circle cx="1253" cy="958" r="7.5"/></g>
<g id="r23" class="n"><circle cx="1260" cy="968" r="7.5"/></g>
<g id="r24" class="n"><circle cx="1248" cy="963" r="7.5"/></g>
<g id="r25" class="n"><circle cx="1265" cy="937" r="7.5"/></g>
<g id="r26" class="n"><circle cx="1270" cy="942" r="7.5"/></g>
<g id="r27" class="n"><circle cx="1278" cy="917" r="7.5"/></g>
<g id="r28" class="n"><circle cx="1287" cy="923" r="7.5"/></g>
<g id="r29" class="n"><circle cx="1292" cy="896" r="7.5"/></g>
<g id="r30" class="n"><circle cx="1280" cy="958" r="7.5"/></g>
<g id="r31" class="n"><circle cx="1297" cy="938" r="7.5"/></g>
<g id="r32" class="n"><circle cx="1302" cy="947" r="7.5"/></g>
<g id="r33" class="n"><circle cx="1295" cy="942" r="7.5"/></g>
<g id="r34" class="n"><circle cx="1315" cy="925" r="7.5"/></g>
<g id="r35" class="n"><circle cx="1317" cy="930" r="7.5"/></g>
<g id="r36" class="n"><circle cx="1322" cy="940" r="7.5"/></g>
<g id="r37" class="n"><circle cx="1318" cy="933" r="7.5"/></g>
<g id="r38" class="n"><circle cx="1330" cy="907" r="7.5"/></g>
<g id="r39" class="n"><circle cx="1337" cy="915" r="7.5"/></g>
<g id="r40" class="n"><circle cx="1340" cy="922" r="7.5"/></g>
<g id="r41" class="n"><circle cx="1343" cy="932" r="7.5"/></g>
<g id="r42" class="n"><circle cx="1355" cy="903" r="7.5"/></g>
<g id="r43" class="n"><circle cx="1357" cy="910" r="7.5"/></g>
<g id="r44" class="n"><circle cx="1360" cy="913" r="7.5"/></g>
<g id="r45" class="n"><circle cx="1363" cy="922" r="7.5"/></g>
<g id="r46" class="n"><circle cx="1378" cy="898" r="7.5"/></g>
<g id="r47" class="n"><circle cx="1382" cy="907" r="7.5"/></g>
<g id="r48" class="n"><circle cx="1383" cy="908" r="7.5"/></g>
<g id="b1" class="n"><circle cx="1048" cy="1127" r="7.5"/></g>
<g id="b2" class="n"><circle cx="1052" cy="1134" r="7.5"/></g>
<g id="b3" class="n"><circle cx="1067" cy="1138" r="7.5"/></g>
<g id="b4" class="n"><circle cx="1043" cy="1152" r="7.5"/></g>
<g id="b5" class="n"><circle cx="1048" cy="1157" r="7.5"/></g>
<g id="b6" class="n"><circle cx="1053" cy="1160" r="7.5"/></g>
<g id="b7" class="n"><circle cx="1035" cy="1175" r="7.5"/></g>
<g id="b8" class="n"><circle cx="1038" cy="1182" r="7.5"/></g>
<g id="b9" class="n"><circle cx="1045" cy="1185" r="7.5"/></g>
<g id="b10" class="n"><circle cx="1020" cy="1198" r="7.5"/></g>
<g id="b11" class="n"><circle cx="1027" cy="1205" r="7.5"/></g>
<g id="b12" class="n"><circle cx="1038" cy="1215" r="7.5" style="fill:#482677"/></g>
<g id="b13" class="n"><circle cx="1012" cy="1222" r="7.5"/></g>
<g id="b14" class="n"><circle cx="1015" cy="1225" r="7.5"/></g>
<g id="b15" class="n"><circle cx="1023" cy="1233" r="7.5"/></g>
<g id="b16" class="n"><circle cx="1033" cy="1238" r="7.5"/></g>
<g id="b17" class="n"><circle cx="1003" cy="1245" r="7.5"/></g>
<g id="b18" class="n"><circle cx="1008" cy="1248" r="7.5"/></g>
<g id="b19" class="n"><circle cx="1018" cy="1258" r="7.5"/></g>
<g id="b20" class="n"><circle cx="1027" cy="1263" r="7.5"/></g>
<g id="b21" class="n"><circle cx="990" cy="1267" r="7.5"/></g>
<g id="b22" class="n"><circle cx="1000" cy="1273" r="7.5"/></g>
<g id="b23" class="n"><circle cx="1008" cy="1283" r="7.5"/></g>
<g id="b24" class="n"><circle cx="1020" cy="1288" r="7.5"/></g>
<g id="b25" class="n"><circle cx="1028" cy="1292" r="7.5"/></g>
<g id="b26" class="n"><circle cx="982" cy="1290" r="7.5"/></g>
<g id="b27" class="n"><circle cx="985" cy="1293" r="7.5"/></g>
<g id="b28" class="n"><circle cx="992" cy="1303" r="7.5"/></g>
<g id="b29" class="n"><circle cx="1005" cy="1310" r="7.5"/></g>
<g id="b30" class="n"><circle cx="1017" cy="1315" r="7.5"/></g>
<g id="b31" class="n"><circle cx="1028" cy="1318" r="7.5"/></g>
<g id="b32" class="n"><circle cx="990" cy="1332" r="7.5"/></g>
<g id="b33" class="n"><circle cx="997" cy="1333" r="7.5"/></g>
<g id="b34" class="n"><circle cx="1010" cy="1340" r="7.5"/></g>
<g id="b35" class="n"><circle cx="1017" cy="1343" r="7.5"/></g>
<g id="b36" class="n"><circle cx="1027" cy="1343" r="7.5"/></g>
<g id="b37" class="n"><circle cx="983" cy="1355" r="7.5"/></g>
<g id="b38" class="n"><circle cx="990" cy="1358" r="7.5"/></g>
<g id="b39" class="n"><circle cx="1003" cy="1365" r="7.5"/></g>
<g id="b40" class="n"><circle cx="1010" cy="1367" r="7.5"/></g>
<g id="b41" class="n"><circle cx="1020" cy="1369" r="7.5"/></g>
<g id="b42" class="n"><circle cx="1028" cy="1370" r="7.5"/></g>
<g id="b43" class="n"><circle cx="985" cy="1383" r="7.5"/></g>
<g id="b44" class="n"><circle cx="992" cy="1387" r="7.5"/></g>
<g id="b45" class="n"><circle cx="1002" cy="1392" r="7.5"/></g>
<g id="b46" class="n"><circle cx="1013" cy="1393" r="7.5"/></g>
<g id="b47" class="n"><circle cx="1022" cy="1395" r="7.5"/></g>
<g id="b48" class="n"><circle cx="1028" cy="1395" r="7.5"/></g>
<g id="b49" class="n"><circle cx="987" cy="1412" r="7.5"/></g>
<g id="b50" class="n"><circle cx="992" cy="1415" r="7.5"/></g>
<g id="b51" class="n"><circle cx="1003" cy="1420" r="7.5"/></g>
<g id="b52" class="n"><circle cx="1015" cy="1422" r="7.5"/></g>
<g id="b53" class="n"><circle cx="1025" cy="1422" r="7.5"/></g>
<g id="b54" class="n"><circle cx="990" cy="1440" r="7.5"/></g>
<g id="b55" class="n"><circle cx="993" cy="1442" r="7.5"/></g>
<g id="b56" class="n"><circle cx="998" cy="1443" r="7.5"/></g>
<g id="b57" class="n"><circle cx="1017" cy="1447" r="7.5"/></g>
<g id="b58" class="n"><circle cx="1027" cy="1448" r="7.5"/></g>
<g id="b59" class="n"><circle cx="993" cy="1468" r="7.5"/></g>
<g id="b60" class="n"><circle cx="1010" cy="1472" r="7.5"/></g>
<g id="b61" class="n"><circle cx="1027" cy="1473" r="7.5"/></g>
<g id="b62" class="n"><circle cx="998" cy="1495" r="7.5"/></g>
<g id="b63" class="n"><circle cx="1007" cy="1497" r="7.5"/></g>
<g id="b64" class="n"><circle cx="1010" cy="1498" r="7.5"/></g>
<g id="b65" class="n"><circle cx="1027" cy="1498" r="7.5"/></g>
<g id="b66" class="n"><circle cx="1007" cy="1523" r="7.5"/></g>
<g id="b67" class="n"><circle cx="1023" cy="1525" r="7.5"/></g>
<g id="b68" class="n"><circle cx="1029" cy="1550" r="7.5"/></g>
<g id="d1" class="n"><circle cx="968" cy="1312" r="7.5"/></g>
<g id="d2" class="n"><circle cx="977" cy="1326" r="7.5"/></g>
<g id="d3" class="n"><circle cx="963" cy="1345" r="7.5"/></g>
<g id="d4" class="n"><circle cx="949" cy="1366" r="7.5"/></g>
<g id="d5" class="n"><circle cx="936" cy="1388" r="7.5"/></g>
<g id="d6" class="n"><circle cx="923" cy="1409" r="7.5"/></g>
<g id="d7" class="n"><circle cx="910" cy="1430" r="7.5"/></g>
<g id="d8" class="n"><circle cx="897" cy="1451" r="7.5"/></g>
<g id="d9" class="n"><circle cx="903" cy="1454" r="7.5"/></g>
<g id="d10" class="n"><circle cx="878" cy="1467" r="7.5"/></g>
<g id="d11" class="n"><circle cx="889" cy="1475" r="7.5"/></g>
<g id="d12" class="n"><circle cx="896" cy="1479" r="7.5"/></g>
<g id="d13" class="n"><circle cx="862" cy="1484" r="7.5"/></g>
<g id="d14" class="n"><circle cx="880" cy="1498" r="7.5"/></g>
<g id="d15" class="n"><circle cx="885" cy="1502" r="7.5"/></g>
<g id="d16" class="n"><circle cx="846" cy="1503" r="7.5"/></g>
<g id="d17" class="n"><circle cx="867" cy="1520" r="7.5"/></g>
<g id="d18" class="n"><circle cx="873" cy="1524" r="7.5"/></g>
<g id="d19" class="n"><circle cx="878" cy="1527" r="7.5"/></g>
<g id="d20" class="n"><circle cx="832" cy="1522" r="7.5"/></g>
<g id="d21" class="n"><circle cx="853" cy="1541" r="7.5"/></g>
<g id="d22" class="n"><circle cx="864" cy="1547" r="7.5"/></g>
<g id="d23" class="n"><circle cx="870" cy="1550" r="7.5"/></g>
<g id="d24" class="n"><circle cx="873" cy="1553" r="7.5"/></g>
<g id="d25" class="n"><circle cx="817" cy="1540" r="7.5"/></g>
<g id="d26" class="n"><circle cx="820" cy="1545" r="7.5"/></g>
<g id="d27" class="n"><circle cx="838" cy="1559" r="7.5"/></g>
<g id="d28" class="n"><circle cx="863" cy="1575" r="7.5"/></g>
<g id="d29" class="n"><circle cx="799" cy="1557" r="7.5"/></g>
<g id="d30" class="n"><circle cx="803" cy="1562" r="7.5"/></g>
<g id="d31" class="n"><circle cx="807" cy="1565" r="7.5"/></g>
<g id="d32" class="n"><circle cx="827" cy="1582" r="7.5"/></g>
<g id="d33" class="n"><circle cx="853" cy="1598" r="7.5"/></g>
<g id="d34" class="n"><circle cx="780" cy="1570" r="7.5"/></g>
<g id="d35" class="n"><circle cx="784" cy="1576" r="7.5"/></g>
<g id="d36" class="n"><circle cx="788" cy="1580" r="7.5"/></g>
<g id="d37" class="n"><circle cx="793" cy="1585" r="7.5"/></g>
<g id="d38" class="n"><circle cx="815" cy="1602" r="7.5"/></g>
<g id="d39" class="n"><circle cx="763" cy="1588" r="7.5"/></g>
<g id="d40" class="n"><circle cx="768" cy="1593" r="7.5"/></g>
<g id="d41" class="n"><circle cx="772" cy="1599" r="7.5"/></g>
<g id="d42" class="n"><circle cx="783" cy="1607" r="7.5"/></g>
<g id="d43" class="n"><circle cx="842" cy="1620" r="7.5"/></g>
<g id="d44" class="n"><circle cx="747" cy="1603" r="7.5"/></g>
<g id="d45" class="n"><circle cx="757" cy="1615" r="7.5"/></g>
<g id="d46" class="n"><circle cx="760" cy="1619" r="7.5"/></g>
<g id="d47" class="n"><circle cx="798" cy="1621" r="7.5"/></g>
<g id="d48" class="n"><circle cx="733" cy="1625" r="7.5"/></g>
<g id="d49" class="n"><circle cx="737" cy="1630" r="7.5"/></g>
<g id="d50" class="n"><circle cx="719" cy="1646" r="7.5"/></g>
<g id="c1" class="n"><circle cx="902" cy="968" r="7.5"/></g>
<g id="c2" class="n"><circle cx="905" cy="958" r="7.5"/></g>
<g id="c3" class="n"><circle cx="927" cy="971" r="7.5"/></g>
<g id="c4" class="n"><circle cx="919" cy="989" r="7.5"/></g>
<g id="c5" class="n"><circle cx="940" cy="998" r="7.5"/></g>
<g id="c6" class="n"><circle cx="1075" cy="1114" r="7.5"/></g>
<g id="colorbar">
<rect x="1569" y="240" width="77" height="1539" fill="url(#vir)" stroke="#000" stroke-width="1.1"/>
<g stroke="#000" stroke-width="1.1">
<line x1="1646" y1="1779" x2="1651" y2="1779"/><line x1="1646" y1="1471.2" x2="1651" y2="1471.2"/><line x1="1646" y1="1163.4" x2="1651" y2="1163.4"/><line x1="1646" y1="855.6" x2="1651" y2="855.6"/><line x1="1646" y1="547.8" x2="1651" y2="547.8"/><line x1="1646" y1="240" x2="1651" y2="240"/>
</g>
<g class="t" font-size="13.9">
<text x="1655" y="1784">0.0</text><text x="1655" y="1476">0.2</text><text x="1655" y="1168">0.4</text><text x="1655" y="860.5">0.6</text><text x="1655" y="552.8">0.8</text><text x="1655" y="245">1.0</text>
</g>
<text class="t" font-size="13.9" text-anchor="middle" transform="translate(1692.5,1010) rotate(-90)">Betweeness Centrality</text>
</g>
</svg>
